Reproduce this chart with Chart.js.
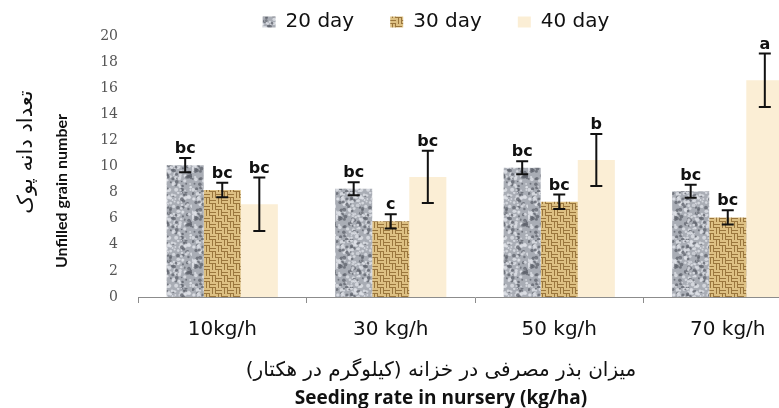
<!DOCTYPE html>
<html>
<head>
<meta charset="utf-8">
<script src="https://cdn.jsdelivr.net/npm/chart.js@4.4.0/dist/chart.umd.min.js"></script>
<style>
  html, body { margin: 0; padding: 0; background: #fff; overflow: hidden; }
  /* the plot runs past the right edge in the original, so the canvas is wider than the window */
  #wrap { position: relative; width: 882px; height: 408px; }
</style>
</head>
<body>
<div id="wrap"><canvas id="chart"></canvas></div>
<script>
// data
const categories = ['10kg/h', '30 kg/h', '50 kg/h', '70 kg/h'];
const seriesNames = ['20 day', '30 day', '40 day'];
const day20 = [10.1, 8.3, 9.9, 8.1];
const day30 = [8.2, 5.8, 7.3, 6.1];
const day40 = [7.1, 9.2, 10.5, 16.6];
const err20 = [0.55, 0.5, 0.5, 0.5];
const err30 = [0.55, 0.55, 0.55, 0.55];
const err40 = [2.05, 2.0, 2.0, 2.05];
const letters20 = ['bc', 'bc', 'bc', 'bc'];
const letters30 = ['bc', 'c', 'bc', 'bc'];
const letters40 = ['bc', 'bc', 'b', 'a'];
const yTicks = [0, 2, 4, 6, 8, 10, 12, 14, 16, 18, 20];

const yTitleFa = 'تعداد دانه پوک';
const yTitleEn = 'Unfilled grain number';
const xTitleFa = 'میزان بذر مصرفی در خزانه (کیلوگرم در هکتار)';
const xTitleEn = 'Seeding rate in nursery (kg/ha)';

// grey mottled fill
function speckle() {
    const c = document.createElement('canvas');
    c.width = c.height = 48;
    const g = c.getContext('2d');
    g.fillStyle = '#a9adb5';
    g.fillRect(0, 0, 48, 48);
    let s = 11;
    const next = () => (s = (s * 16807) % 2147483647) / 2147483647;
    for (let i = 0; i < 240; i++) {
        const r = next();
        g.fillStyle = r < 0.45 ? 'rgba(95,99,108,0.75)' : 'rgba(222,225,231,0.8)';
        g.beginPath();
        g.arc(next() * 48, next() * 48, 0.8 + next() * 1.2, 0, Math.PI * 2);
        g.fill();
    }
    return g.createPattern(c, 'repeat');
}

// golden basket weave fill
function weave() {
    const c = document.createElement('canvas');
    c.width = c.height = 12;
    const g = c.getContext('2d');
    g.fillStyle = '#ddc083';
    g.fillRect(0, 0, 12, 12);
    g.fillStyle = '#9a763d';
    for (let bx = 0; bx < 2; bx++) {
        for (let by = 0; by < 2; by++) {
            const x0 = bx * 6, y0 = by * 6;
            if ((bx + by) % 2 === 0) {
                g.fillRect(x0, y0 + 2, 6, 1);
                g.fillRect(x0, y0 + 5, 6, 1);
            } else {
                g.fillRect(x0 + 2, y0, 1, 6);
                g.fillRect(x0 + 5, y0, 1, 6);
            }
        }
    }
    return g.createPattern(c, 'repeat');
}

// error bars + significance letters
const errorBars = {
    id: 'errorBars',
    afterDatasetsDraw(chart) {
        const ctx = chart.ctx;
        const y = chart.scales.y;
        ctx.save();
        ctx.strokeStyle = '#111';
        ctx.fillStyle = '#111';
        ctx.lineWidth = 2;
        ctx.font = 'bold 16px "DejaVu Sans"';
        ctx.textAlign = 'center';
        ctx.textBaseline = 'alphabetic';
        chart.data.datasets.forEach((ds, i) => {
            chart.getDatasetMeta(i).data.forEach((bar, j) => {
                const v = ds.data[j], e = ds.errors[j];
                const top = y.getPixelForValue(v + e);
                const bot = y.getPixelForValue(v - e);
                ctx.beginPath();
                ctx.moveTo(bar.x, top); ctx.lineTo(bar.x, bot);
                ctx.moveTo(bar.x - 6, top); ctx.lineTo(bar.x + 6, top);
                ctx.moveTo(bar.x - 6, bot); ctx.lineTo(bar.x + 6, bot);
                ctx.stroke();
                ctx.fillText(ds.letters[j], bar.x, top - 5);
            });
        });
        ctx.restore();
    }
};

// the two stacked y titles sit off-centre in the original, so draw them here
const yTitles = {
    id: 'yTitles',
    afterDraw(chart) {
        const ctx = chart.ctx;
        const top = chart.chartArea.top;
        ctx.save();
        ctx.fillStyle = '#111';
        ctx.textAlign = 'center';
        ctx.textBaseline = 'middle';
        ctx.translate(27, top + 116);
        ctx.rotate(-Math.PI / 2);
        ctx.font = '21px "DejaVu Sans"';
        ctx.fillText(yTitleFa, 0, 0);
        ctx.restore();
        ctx.save();
        ctx.fillStyle = '#111';
        ctx.textAlign = 'center';
        ctx.textBaseline = 'middle';
        ctx.translate(62, top + 155);
        ctx.rotate(-Math.PI / 2);
        ctx.font = 'bold 16px Lato';
        ctx.fillText(yTitleEn, 0, 0);
        ctx.restore();
    }
};

// pull the legend up into the top strip
const legendNudge = {
    id: 'legendNudge',
    afterUpdate(chart) {
        const lg = chart.legend;
        lg.top -= 24;
        lg.left -= 5;
        lg.right -= 5;
        lg.adjustHitBoxes();
    }
};

new Chart(document.getElementById('chart'), {
    type: 'bar',
    data: {
        labels: categories,
        datasets: [
            { label: seriesNames[0], data: day20, errors: err20, letters: letters20, backgroundColor: speckle() },
            { label: seriesNames[1], data: day30, errors: err30, letters: letters30, backgroundColor: weave() },
            { label: seriesNames[2], data: day40, errors: err40, letters: letters40, backgroundColor: '#fbeed5' }
        ]
    },
    options: {
        responsive: true,
        maintainAspectRatio: false,
        animation: false,
        layout: { padding: 0 },
        datasets: { bar: { categoryPercentage: 0.66, barPercentage: 1.0 } },
        scales: {
            x: {
                grid: { offset: true, drawOnChartArea: false, drawTicks: true, tickLength: 6, color: '#8c8c8c' },
                border: { display: true, color: '#8c8c8c', width: 1 },
                ticks: { padding: 15, color: '#111', font: { family: 'DejaVu Sans', size: 20 } }
            },
            y: {
                min: 0,
                max: 20,
                afterBuildTicks: s => { s.ticks = yTicks.map(v => ({ value: v })); },
                ticks: { padding: 20, color: '#555', font: { family: 'DejaVu Serif', size: 14 } },
                grid: { display: false, drawTicks: false },
                border: { display: false },
                afterFit: s => { s.width = 138; }
            },
            y2: {
                position: 'right',
                grid: { display: false, drawTicks: false },
                border: { display: false },
                ticks: { display: false },
                afterFit: s => { s.width = 70; }
            }
        },
        plugins: {
            legend: {
                position: 'top',
                maxHeight: 36,
                labels: {
                    boxWidth: 13,
                    boxHeight: 11,
                    padding: 36,
                    color: '#111',
                    font: { family: 'DejaVu Sans', size: 20 }
                }
            },
            subtitle: {
                display: true,
                position: 'bottom',
                text: xTitleFa,
                color: '#111',
                font: { family: 'DejaVu Sans', size: 20, weight: 'normal' },
                padding: { top: 2, bottom: 0 }
            },
            title: {
                display: true,
                position: 'bottom',
                text: xTitleEn,
                color: '#111',
                font: { family: 'Open Sans', size: 19, weight: 'bold', lineHeight: 1.0 },
                padding: { top: 6, bottom: 0 }
            },
            tooltip: { enabled: false }
        }
    },
    plugins: [errorBars, yTitles, legendNudge]
});
</script>
</body>
</html>
